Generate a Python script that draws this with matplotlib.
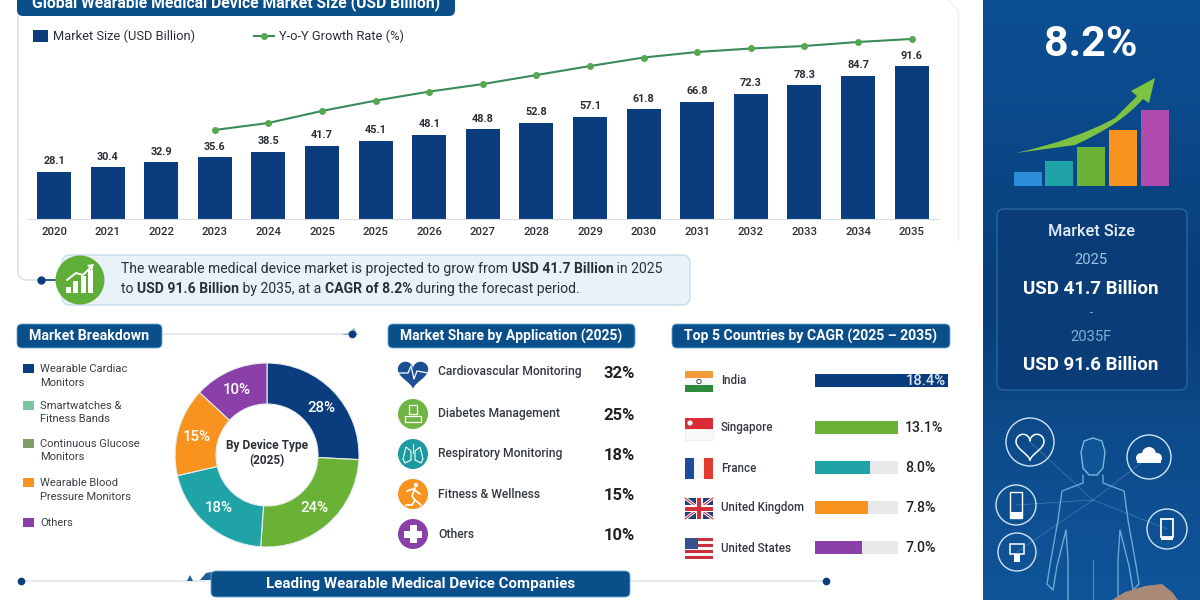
import numpy as np
import matplotlib
matplotlib.use('Agg')
import matplotlib.pyplot as plt
from matplotlib.patches import FancyBboxPatch, Circle, Rectangle, Polygon, PathPatch
from matplotlib.path import Path

plt.rcParams['font.family'] = ['Roboto', 'DejaVu Sans']

NAVY = '#0b3c7d'
BANNER = '#0b4f8a'
GREEN = '#6ab236'
TEAL = '#1fa3a6'
ORANGE = '#f7931e'
PURPLE = '#8b3fa8'
TEXT = '#2b2f36'

# Main chart. The picture's bars are not drawn to the scale of their labels,
# so the labels and the drawn heights are kept apart.
years = ['2020', '2021', '2022', '2023', '2024', '2025', '2025', '2026', '2027',
         '2028', '2029', '2030', '2031', '2032', '2033', '2034', '2035']
size_labels = ['28.1', '30.4', '32.9', '35.6', '38.5', '41.7', '45.1', '48.1', '48.8',
               '52.8', '57.1', '61.8', '66.8', '72.3', '78.3', '84.7', '91.6']
size_heights = [28.4, 31.1, 34.1, 37.1, 40.4, 43.7, 47.0, 50.3, 53.6,
                57.5, 61.1, 65.6, 70.1, 74.9, 80.2, 85.9, 91.6]
# no axis for the growth line in the picture, read on the bar scale
growth_values = [53.3, 57.5, 64.7, 70.9, 76.3, 80.8, 86.2, 91.6, 96.7, 100.0, 102.1, 103.6, 106.0, 107.8]

# Donut
device_types = ['Wearable Cardiac\nMonitors', 'Smartwatches &\nFitness Bands',
                'Continuous Glucose\nMonitors', 'Wearable Blood\nPressure Monitors', 'Others']
device_legend_colors = [NAVY, '#7fc4a0', '#7f9f6a', ORANGE, PURPLE]
device_labels = ['28%', '24%', '18%', '15%', '10%']
device_sweeps = [25.8, 25.3, 20.3, 15.5, 13.1]
device_colors = [NAVY, GREEN, TEAL, ORANGE, PURPLE]

# Application table
applications = ['Cardiovascular Monitoring', 'Diabetes Management', 'Respiratory Monitoring',
                'Fitness & Wellness', 'Others']
application_shares = ['32%', '25%', '18%', '15%', '10%']

# Countries
countries = ['India', 'Singapore', 'France', 'United Kingdom', 'United States']
cagr_labels = ['18.4%', '13.1%', '8.0%', '7.8%', '7.0%']
cagr_lengths = [18.4, 11.5, 7.6, 7.3, 6.5]
cagr_track = 11.5
cagr_colors = [NAVY, GREEN, TEAL, ORANGE, PURPLE]

fig = plt.figure(figsize=(12, 6), dpi=100, facecolor='white')

# whole-figure axes in pixels, for the infographic furniture
ov = fig.add_axes([0, 0, 1, 1], zorder=5)
ov.set_xlim(0, 1200)
ov.set_ylim(600, 0)
ov.axis('off')


def px_axes(x0, y0, x1, y1, z=2):
    a = fig.add_axes([x0 / 1200, 1 - y1 / 600, (x1 - x0) / 1200, (y1 - y0) / 600], zorder=z)
    a.patch.set_alpha(0)
    return a


def rbox(x0, y0, x1, y1, r=6, fc=BANNER, ec='none', lw=1, z=2):
    p = FancyBboxPatch((x0, y0), x1 - x0, y1 - y0, boxstyle='round,pad=0,rounding_size=%s' % r,
                       fc=fc, ec=ec, lw=lw, zorder=z)
    ov.add_patch(p)
    return p


def banner(x0, y0, x1, y1, label, size=10.0, ty=None):
    rbox(x0, y0, x1, y1, r=5, fc=BANNER, ec='#6aa6d0', lw=0.6)
    ov.text((x0 + x1) / 2, (y0 + y1) / 2 if ty is None else ty, label, color='white', fontsize=size,
            fontweight='bold', ha='center', va='center', zorder=3)


def dot_line(x0, x1, y, dot_x):
    ov.plot([x0, x1], [y, y], color='#dfe6ee', lw=1.2, zorder=1)
    ov.plot([dot_x], [y], 'o', color='#0b3c7d', ms=4.5, zorder=2)


def runs(x, y, parts, size=10.05):
    # mixed regular and bold text on one line
    r = fig.canvas.get_renderer()
    for s, weight in parts:
        t = ov.text(x, y, s, fontsize=size, fontweight=weight, color=TEXT, va='center', ha='left', zorder=4)
        x += t.get_window_extent(r).width


def line(xs, ys, color='white', lw=1.2, z=5, a=None):
    ov.plot(xs, ys, color=color, lw=lw, zorder=z, alpha=a, solid_capstyle='round')


# chart card
card = Path([(18, 16), (18, 272), (18, 280), (28, 280), (40, 280)],
            [Path.MOVETO, Path.LINETO, Path.CURVE3, Path.CURVE3, Path.LINETO])
ov.add_patch(PathPatch(card, fc='none', ec='#d5dbe2', lw=1, zorder=1))
line([948, 958], [0, 10], '#eef1f4', 1, 1)
line([958, 958], [10, 240], '#eef1f4', 1, 1)
rbox(17, -12, 455, 16, r=6)
ov.text(236, 3, 'Global Wearable Medical Device Market Size (USD Billion)', color='white',
        fontsize=11.3, fontweight='bold', ha='center', va='center', zorder=3)

# bars and growth line
ax = px_axes(27, 20, 939, 219)
x = np.arange(len(years))
b = ax.bar(x, size_heights, width=34 / 53.6, color=NAVY, label='Market Size (USD Billion)', zorder=2)
l, = ax.plot(x[3:], growth_values, color='#3b8a5a', lw=1.5, marker='o', ms=4,
             mfc='#55a84f', mec='#55a84f', label='Y-o-Y Growth Rate (%)', zorder=3)
for xi, h, s in zip(x, size_heights, size_labels):
    ax.text(xi, h + 6.3, s, ha='center', va='center', fontsize=7.8, fontweight='bold', color=TEXT)
ax.set_xlim(-0.504, 16.51)
ax.set_ylim(0, 199 / 1.67)
ax.set_xticks(x)
ax.set_xticklabels(years, fontsize=8.2, fontweight='medium', color=TEXT)
ax.tick_params(axis='x', length=0, pad=6)
ax.set_yticks([])
for s in ['top', 'left', 'right']:
    ax.spines[s].set_visible(False)
ax.spines['bottom'].set_color('#d9dde2')
leg1 = ax.legend(handles=[b], loc='center left', bbox_to_anchor=(0.0, 0.917), frameon=False,
                 fontsize=9.3, handlelength=1.1, handleheight=1.1, handletextpad=0.45, borderpad=0, labelcolor=TEXT)
ax.add_artist(leg1)
ax.legend(handles=[l], loc='center left', bbox_to_anchor=(0.242, 0.917), frameon=False,
          fontsize=9.3, handlelength=1.5, handletextpad=0.45, borderpad=0, labelcolor=TEXT)

# callout
rbox(62, 255, 690, 305, r=8, fc='#e9f2f9', ec='#c9dbe9')
line([41, 56], [280, 280], '#0b3c7d', 1.2, 2)
ov.plot([41], [280], 'o', color='#0b3c7d', ms=5, zorder=2)
ov.add_patch(Circle((80, 280), 24.5, fc='#5fae3a', ec='none', zorder=4))
for bx, top in [(68, 287), (75, 281), (83, 276), (90, 270)]:
    ov.add_patch(Rectangle((bx - 2.5, top), 5, 293 - top, fc='white', zorder=5))
line([67, 76, 83, 92], [280, 273, 275, 266], 'white', 1.4)
ov.add_patch(Polygon([(94, 264), (87, 265), (92, 271)], fc='white', zorder=5))
runs(121, 269, [('The wearable medical device market is projected to grow from ', 'normal'),
                ('USD 41.7 Billion', 'bold'), (' in 2025', 'normal')])
runs(121, 289, [('to ', 'normal'), ('USD 91.6 Billion', 'bold'), (' by 2035, at a ', 'normal'),
                ('CAGR of 8.2%', 'bold'), (' during the forecast period.', 'normal')])

# section headers
banner(17, 324, 162, 348, 'Market Breakdown', size=10.2)
dot_line(162, 352, 334, 352)
ov.add_patch(Polygon([(341, 335), (348, 333), (354, 328), (358, 335)], fc='#8fb0cc', zorder=1))
banner(388, 324, 635, 348, 'Market Share by Application (2025)', size=10.0)
banner(672, 324, 950, 348, 'Top 5 Countries by CAGR (2025 – 2035)', size=10.1)
banner(211, 571, 630, 597, 'Leading Wearable Medical Device Companies', size=10.9)
dot_line(21, 205, 581, 21)
dot_line(630, 826, 581, 826)
ov.add_patch(Polygon([(200, 580), (206, 573), (212, 572), (212, 580)], fc='#1f5f99', zorder=1))
ov.add_patch(Polygon([(187, 581), (190, 575), (193, 581)], fc='#1f5f99', zorder=1))

# donut legend
legend_rows = [369, 406, 444, 483, 523]
for name, c, y in zip(device_types, device_legend_colors, legend_rows):
    ov.add_patch(Rectangle((23, y - 5), 10.5, 9, fc=c, zorder=3))
    first = name.split('\n')
    for i, s in enumerate(first):
        ov.text(40, y + i * 13.5, s, fontsize=8.05, color='#3a3f47', va='center', zorder=3)

# donut
pax = px_axes(175, 363, 359, 547)
pax.pie(device_sweeps, startangle=90, counterclock=False, colors=device_colors, radius=1,
        wedgeprops=dict(width=41 / 92, edgecolor='#e8eef0', linewidth=0.8))
pax.set_xlim(-1, 1)
pax.set_ylim(-1, 1)
label_pos = [(321, 408), (314, 508), (219, 508), (197, 437), (237, 390)]
for s, (tx, ty) in zip(device_labels, label_pos):
    ov.text(tx, ty, s, color='white', fontsize=10.8, fontweight='medium', ha='center', va='center', zorder=6)
ov.text(267, 446, 'By Device Type', fontsize=8.6, fontweight='bold', color=TEXT, ha='center', va='center', zorder=6)
ov.text(267, 461, '(2025)', fontsize=8.6, fontweight='bold', color=TEXT, ha='center', va='center', zorder=6)

# application rows
text_rows = [371, 414, 454, 494, 534]
pct_rows = [373, 415, 455, 495, 535]
for name, pct, ty, py in zip(applications, application_shares, text_rows, pct_rows):
    ov.text(438, ty, name, fontsize=8.7, fontweight='medium', color='#333842', va='center', zorder=3)
    ov.text(635, py, pct, fontsize=12, fontweight='bold', color='#222', va='center', ha='right', zorder=3)

ix = 413
# heart
t = np.linspace(0, 2 * np.pi, 80)
hx = ix + 1.0 * 16 * np.sin(t) ** 3 * 0.95
hy = 373 - 1.0 * (13 * np.cos(t) - 5 * np.cos(2 * t) - 2 * np.cos(3 * t) - np.cos(4 * t)) * 0.95
ov.add_patch(Polygon(np.c_[hx, hy], fc='#1a4f94', zorder=4))
line([ix - 15, ix - 5, ix - 2, ix + 1, ix + 4, ix + 15], [373, 373, 366, 379, 371, 373], 'white', 0.9)
# diabetes
ov.add_patch(Circle((ix, 414), 15, fc='#6fb544', zorder=4))
ov.add_patch(Rectangle((ix - 4, 405), 8, 9, fc='none', ec='white', lw=0.9, zorder=5))
line([ix - 8, ix - 8, ix + 8, ix + 8, ix - 8], [416, 422, 422, 416, 416], 'white', 0.9)
# lungs
ov.add_patch(Circle((ix, 454), 15, fc='#1b9aa0', zorder=4))
line([ix, ix], [444, 453], 'white', 0.8)
for sgn in [-1, 1]:
    ov.add_patch(Polygon([(ix + sgn * 2, 451), (ix + sgn * 7, 447), (ix + sgn * 10, 459),
                          (ix + sgn * 8, 463), (ix + sgn * 2, 460)], fc='none', ec='white', lw=0.8, zorder=5))
# runner
ov.add_patch(Circle((ix, 494), 15, fc=ORANGE, zorder=4))
ov.add_patch(Circle((ix + 3, 485), 2.2, fc='white', zorder=5))
line([ix + 2, ix - 1, ix + 2, ix - 1, ix - 7], [488, 496, 500, 505, 505], 'white', 1.3)
line([ix + 2, ix + 8], [500, 505], 'white', 1.3)
line([ix - 6, ix, ix + 7], [491, 489, 494], 'white', 1.3)
# plus
ov.add_patch(Circle((ix, 534), 15, fc=PURPLE, zorder=4))
ov.add_patch(Rectangle((ix - 3.5, 525), 7, 18, fc='white', zorder=5))
ov.add_patch(Rectangle((ix - 9, 530.5), 18, 7, fc='white', zorder=5))

# country bars
rows = [381, 428, 468, 508, 548]
cax = px_axes(815, 360, 948, 560)
cax.barh(rows, [cagr_track] * 5, height=13, color='#e6e8ea', zorder=1)
cax.barh(rows, cagr_lengths, height=13, color=cagr_colors, zorder=2)
cax.set_xlim(0, 18.4)
cax.set_ylim(560, 360)
cax.axis('off')
for name, s, y in zip(countries, cagr_labels, rows):
    ov.text(721, y, name, fontsize=8.3, fontweight='medium', color='#333842', va='center', zorder=3)
    if name == 'India':
        ov.text(946, y, s, fontsize=10.6, fontweight='medium', color='#dfe9f3', va='center', ha='right', zorder=5)
    else:
        ov.text(905, y, s, fontsize=10.2, fontweight='medium', color='#222', va='center', zorder=3)

# flags
fx0, fx1 = 685, 713
for y0, h, c in [(371, 7, '#f39a3c'), (378, 7, '#f7f7f7'), (385, 7, '#2e8b3d')]:
    ov.add_patch(Rectangle((fx0, y0), 28, h, fc=c, zorder=3))
ov.add_patch(Circle((699, 381.5), 2.2, fc='none', ec='#234', lw=0.6, zorder=4))
ov.add_patch(Rectangle((fx0, 418), 28, 11, fc='#dc2b35', zorder=3))
ov.add_patch(Rectangle((fx0, 429), 28, 11, fc='#f8f8f8', ec='#e4e4e4', lw=0.4, zorder=3))
ov.add_patch(Circle((690, 423), 2.6, fc='white', zorder=4))
ov.add_patch(Rectangle((fx0, 458), 9, 21, fc='#1c4a9c', zorder=3))
ov.add_patch(Rectangle((fx0 + 9, 458), 10, 21, fc='#f7f7f7', zorder=3))
ov.add_patch(Rectangle((fx0 + 19, 458), 9, 21, fc='#e23a2f', zorder=3))
ov.add_patch(Rectangle((fx0, 498), 28, 21, fc='#26407f', zorder=3))
line([fx0, fx1], [498, 519], 'white', 2.2, 4)
line([fx0, fx1], [519, 498], 'white', 2.2, 4)
line([fx0, fx1], [498, 519], '#d0303c', 0.8, 4)
line([fx0, fx1], [519, 498], '#d0303c', 0.8, 4)
ov.add_patch(Rectangle((fx0 + 10.5, 498), 7, 21, fc='white', zorder=5))
ov.add_patch(Rectangle((fx0, 505), 28, 7, fc='white', zorder=5))
ov.add_patch(Rectangle((fx0 + 12, 498), 4, 21, fc='#d0303c', zorder=6))
ov.add_patch(Rectangle((fx0, 506.5), 28, 4, fc='#d0303c', zorder=6))
for i in range(7):
    ov.add_patch(Rectangle((fx0, 538 + i * 3), 28, 3, fc='#c9303e' if i % 2 == 0 else '#f5f5f5', zorder=3))
ov.add_patch(Rectangle((fx0, 538), 13, 11, fc='#35508f', zorder=4))

# right panel
rax = px_axes(983, 0, 1200, 600, z=1)
stops = np.array([[0.05, 0.31, 0.58], [0.04, 0.28, 0.53], [0.03, 0.24, 0.47], [0.05, 0.30, 0.55], [0.06, 0.33, 0.60]])
img = np.dstack([np.interp(np.linspace(0, 4, 200), np.arange(5), stops[:, i]) for i in range(3)]).reshape(200, 1, 3)
rax.imshow(img, aspect='auto', extent=(0, 1, 0, 1))
rax.axis('off')

pz = 8


def ptext(y, s, size, weight='normal', color='white'):
    ov.text(1091, y, s, fontsize=size, fontweight=weight, color=color, ha='center', va='center', zorder=pz + 2)


ptext(44, '8.2%', 31, 'bold')
panel_bars = [(1014, 172), (1045, 161), (1077, 147), (1109, 130), (1141, 110)]
panel_colors = ['#2a8fd8', '#1fa3a6', GREEN, ORANGE, '#b24bb0']
for (bx, top), c in zip(panel_bars, panel_colors):
    ov.add_patch(Rectangle((bx, top), 28, 186 - top, fc=c, zorder=pz))
arrow = Path([(1016, 153), (1075, 140), (1115, 118), (1137, 96), (1131, 91), (1155, 78), (1149, 103), (1143, 99),
              (1120, 125), (1075, 145), (1016, 153)],
             [Path.MOVETO, Path.CURVE3, Path.CURVE3, Path.LINETO, Path.LINETO, Path.LINETO, Path.LINETO, Path.LINETO,
              Path.CURVE3, Path.CURVE3, Path.LINETO])
ov.add_patch(PathPatch(arrow, fc='#7cc243', ec='none', zorder=pz + 1))

rbox(997, 209, 1187, 390, r=7, fc='#0a3c78', ec='#2f6ea8', lw=0.8, z=pz)
ptext(232, 'Market Size', 11.8, 'medium', '#e4edf5')
ptext(260, '2025', 10.6, 'normal', '#9cc4e4')
ptext(289, 'USD 41.7 Billion', 13.5, 'bold')
ptext(313, '-', 8, 'normal', '#9cc4e4')
ptext(337, '2035F', 10.6, 'normal', '#7fb0d8')
ptext(365, 'USD 91.6 Billion', 13.5, 'bold')

# body and device icons
glow = '#7fb6e0'
body = [(1083, 475), (1083, 483), (1062, 491), (1058, 520), (1050, 565), (1047, 584), (1053, 590), (1057, 566),
        (1066, 530), (1068, 560), (1068, 600)]
bx, by = zip(*body)
line(bx, by, glow, 1, pz, 0.85)
line([2 * 1093 - v for v in bx], by, glow, 1, pz, 0.85)
ov.add_patch(Polygon([(1093, 438), (1084, 441), (1081, 452), (1083, 468), (1089, 475), (1097, 475), (1103, 468),
                      (1105, 452), (1102, 441)], fc='#0f5596', ec=glow, lw=1, zorder=pz))
line([1093, 1093], [560, 600], glow, 0.8, pz, 0.6)
circles = [(1030, 442, 24), (1149, 457, 22), (1016, 505, 20), (1167, 529, 20), (1017, 552, 19)]
for cx, cy, r in circles:
    ov.add_patch(Circle((cx, cy), r, fc='none', ec='#cfe4f5', lw=1, zorder=pz))
    line([cx, 1093], [cy, 500], glow, 0.5, pz - 1, 0.45)
# heart glyph
hx = 1030 + 14 * np.sin(t) ** 3
hy = 445 - 0.9 * (13 * np.cos(t) - 5 * np.cos(2 * t) - 2 * np.cos(3 * t) - np.cos(4 * t))
ov.plot(hx, hy, color='white', lw=1.1, zorder=pz + 1)
# cloud glyph
for cx, cy, r in [(1141, 458, 5), (1149, 454, 7), (1157, 458, 5)]:
    ov.add_patch(Circle((cx, cy), r, fc='white', zorder=pz + 1))
ov.add_patch(Rectangle((1137, 458), 24, 5, fc='white', zorder=pz + 1))
# phones and monitor
ov.add_patch(Rectangle((1010, 492), 12, 26, fc='none', ec='white', lw=1, zorder=pz + 1))
ov.add_patch(Rectangle((1010, 512), 12, 6, fc='white', zorder=pz + 1))
ov.add_patch(Rectangle((1161, 519), 12, 18, fc='none', ec='white', lw=1.3, zorder=pz + 1))
ov.add_patch(Rectangle((1161, 537), 12, 3, fc='white', zorder=pz + 1))
ov.add_patch(Rectangle((1010, 544), 14, 10, fc='none', ec='white', lw=1.1, zorder=pz + 1))
ov.add_patch(Rectangle((1014, 554), 6, 8, fc='white', zorder=pz + 1))
# hand at the bottom edge
ov.add_patch(Polygon([(1112, 600), (1125, 592), (1145, 586), (1162, 584), (1172, 592), (1178, 600)],
                     fc='#a98a78', zorder=pz + 1))

fig.savefig('out.png', dpi=100, facecolor='white')
